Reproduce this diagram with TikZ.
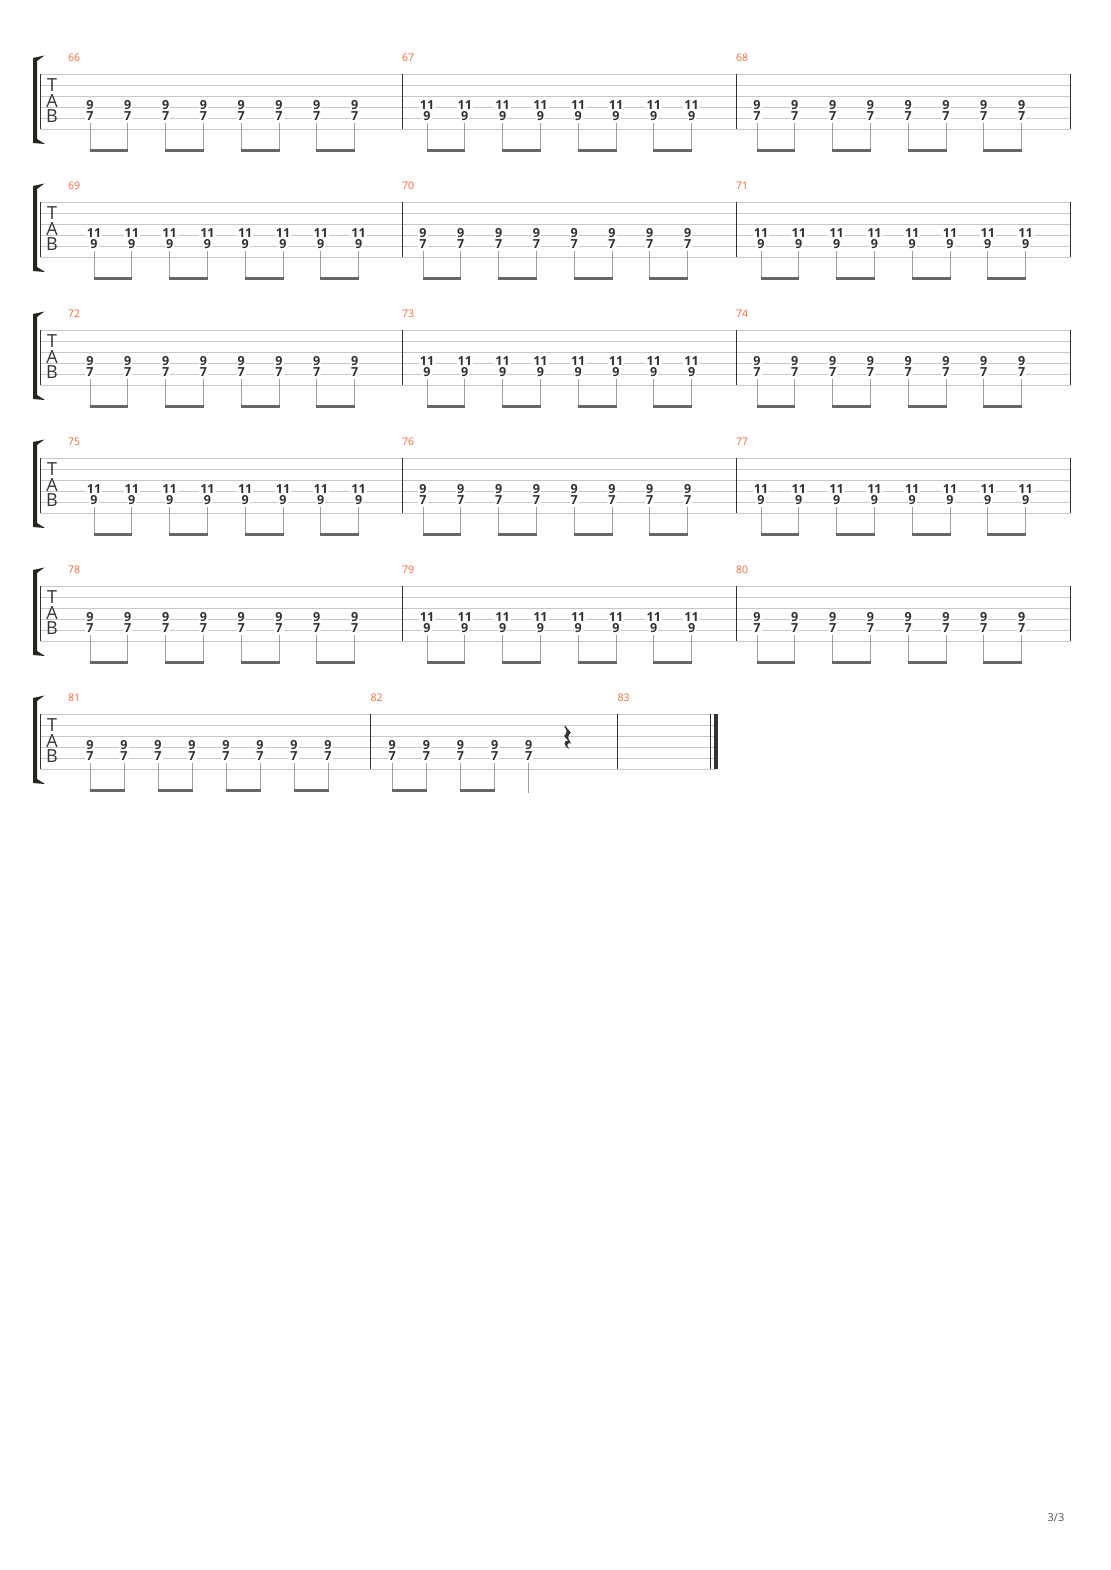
\documentclass[tikz,border=0pt]{standalone}
\usepackage{fontspec}
\setmainfont{Open Sans}
\definecolor{staffc}{HTML}{C8C8C8}
\definecolor{barc}{HTML}{333333}
\definecolor{brkc}{HTML}{22261E}
\definecolor{numc}{HTML}{F26B3A}
\definecolor{stemc}{HTML}{A0A0A0}
\definecolor{beamc}{HTML}{666666}
\definecolor{fretc}{HTML}{303030}
\definecolor{pagec}{HTML}{555555}
\tikzset{
  staffline/.style={draw=staffc, line width=0.9pt},
  barline/.style={draw=barc, line width=0.8pt},
  thickbar/.style={draw=barc, line width=3.7pt},
  fret/.style={fill=white, inner xsep=1pt, inner ysep=0.4pt, text=fretc,
    font=\fontsize{12.5}{12.5}\selectfont\bfseries},
  mnum/.style={anchor=west, inner sep=0pt, text=numc, font=\fontsize{10.5}{10.5}\selectfont},
  stemline/.style={draw=stemc, line width=1pt},
  beamline/.style={draw=beamc, line width=3pt},
  tabletter/.style={inner sep=0pt, text=barc, font=\fontsize{18}{18}\selectfont},
  pagenum/.style={inner sep=0pt, text=pagec, font=\fontsize{11}{11}\selectfont},
}
\begin{document}
\begin{tikzpicture}[x=1pt,y=-1pt]
\fill[white] (0,0) rectangle (1110,1570);
\useasboundingbox (0,0) rectangle (1110,1570);

% ---------- staves, brackets, clefs ----------
\foreach \r in {0,...,5} {
  \pgfmathsetmacro\T{74+128*\r}
  \ifnum\r=5 \def\xend{716}\else\def\xend{1070}\fi
  \foreach \s in {0,...,5} \draw[staffline] (40,\T+11*\s) -- (\xend,\T+11*\s);
  \draw[barline] (40,\T) -- (40,\T+55);
  \fill[brkc] (33,\T-16) -- (44.5,\T-18.5) -- (37,\T-13) -- (37,\T+65) -- (45,\T+70) -- (33,\T+69) -- cycle;
  \node[tabletter] (tT-\r) at (52,\T+11) {T};
  \node[tabletter] (tA-\r) at (52,\T+27.5) {A};
  \node[tabletter] (tB-\r) at (52,\T+42.5) {B};
}

% ---------- rows 1-5 (measures 66-80) ----------
\foreach \r in {0,...,4} {
  \pgfmathsetmacro\T{74+128*\r}
  \pgfmathtruncatemacro\f{mod(\r,2)}
  \foreach \bxl in {402,736,1070} \draw[barline] (\bxl,\T) -- (\bxl,\T+55);
  \foreach \k/\bl/\bx in {0/68/90,1/402/423,2/736/757} {
    \pgfmathtruncatemacro\m{66+3*\r+\k}
    \pgfmathtruncatemacro\odd{mod(\f+\k,2)}
    \ifnum\odd=1 \def\ftop{11}\def\fbot{9}\def\off{4}\else\def\ftop{9}\def\fbot{7}\def\off{0}\fi
    \node[mnum] (m-\m) at (\bl,\T-16) {\m};
    \foreach \i in {0,...,7} {
      \pgfmathsetmacro\x{\bx+\off+37.8*\i}
      \draw[stemline] (\x,\T+49) -- (\x,\T+78);
      \node[fret] (a-\m-\i) at (\x,\T+31.5) {\ftop};
      \node[fret] (b-\m-\i) at (\x,\T+42.5) {\fbot};
    }
    \foreach \j in {0,2,4,6} {
      \pgfmathsetmacro\xa{\bx+\off+37.8*\j-0.5}
      \pgfmathsetmacro\xb{\xa+37.8+1}
      \draw[beamline] (\xa,\T+76.5) -- (\xb,\T+76.5);
    }
  }
}

% ---------- row 6 (measures 81-83) ----------
\begin{scope}
  \def\T{714}
  \draw[barline] (370.5,\T) -- (370.5,\T+55);
  \draw[barline] (617.5,\T) -- (617.5,\T+55);
  \draw[barline] (710.7,\T) -- (710.7,\T+55);
  \draw[thickbar] (716,\T) -- (716,\T+55);
  \node[mnum] (m-81) at (68,\T-16) {81};
  \node[mnum] (m-82) at (370.5,\T-16) {82};
  \node[mnum] (m-83) at (617.5,\T-16) {83};
  \foreach \i in {0,...,7} {
    \pgfmathsetmacro\x{90+34*\i}
    \draw[stemline] (\x,\T+49) -- (\x,\T+78);
    \node[fret] (a-81-\i) at (\x,\T+31.5) {9};
    \node[fret] (b-81-\i) at (\x,\T+42.5) {7};
  }
  \foreach \j in {0,2,4,6} {
    \pgfmathsetmacro\xa{90+34*\j-0.5}
    \pgfmathsetmacro\xb{\xa+35}
    \draw[beamline] (\xa,\T+76.5) -- (\xb,\T+76.5);
  }
  \foreach \i in {0,...,4} {
    \pgfmathsetmacro\x{392.3+34.1*\i}
    \ifnum\i=4
      \draw[stemline] (\x,\T+49) -- (\x,\T+78.5);
    \else
      \draw[stemline] (\x,\T+49) -- (\x,\T+78);
    \fi
    \node[fret] (a-82-\i) at (\x,\T+31.5) {9};
    \node[fret] (b-82-\i) at (\x,\T+42.5) {7};
  }
  \foreach \j in {0,2} {
    \pgfmathsetmacro\xa{392.3+34.1*\j-0.5}
    \pgfmathsetmacro\xb{\xa+35.1}
    \draw[beamline] (\xa,\T+76.5) -- (\xb,\T+76.5);
  }
  % quarter rest
  \fill[barc] (564.5,725) -- (570.8,732.5)
    .. controls (568.3,735) and (567.3,737.5) .. (569.6,741)
    -- (571.2,743.5)
    .. controls (567.5,742) and (565.8,744.5) .. (569,749)
    .. controls (563.5,746.5) and (563,739.8) .. (568.2,740.8)
    -- (564.2,736)
    .. controls (567,733) and (567.6,730.5) .. (564.5,727)
    -- cycle;
\end{scope}

\node[pagenum] (page) at (1056,1518) {3/3};
\end{tikzpicture}
\end{document}
